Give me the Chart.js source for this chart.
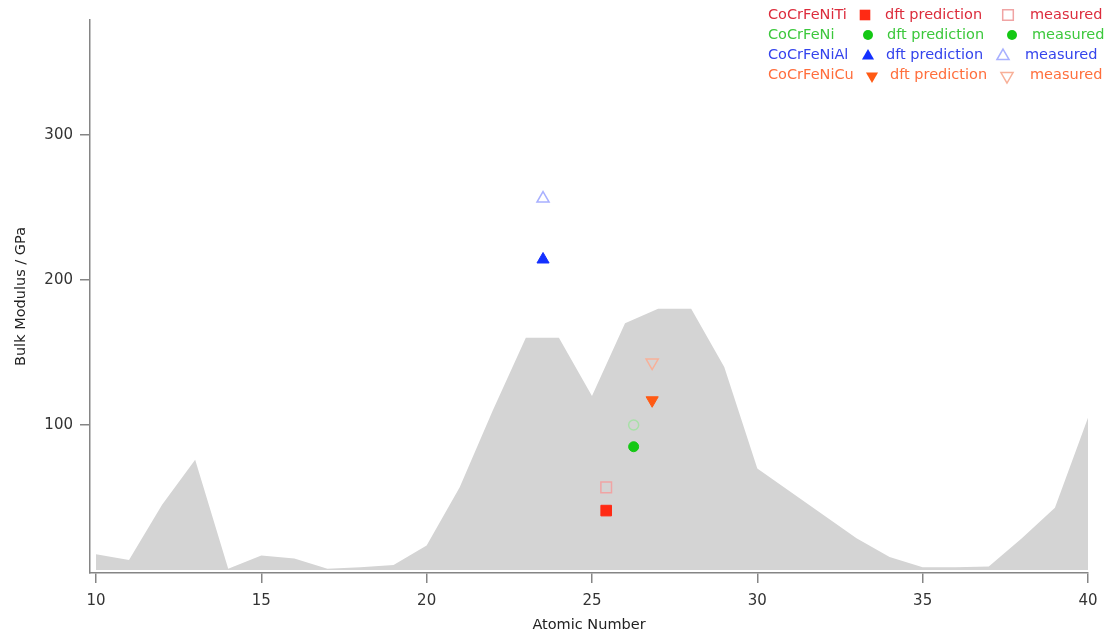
<!DOCTYPE html>
<html>
<head>
<meta charset="utf-8">
<script src="https://cdn.jsdelivr.net/npm/chart.js@4"></script>
<style>
  body { margin: 0; background: #fff; }
  #wrap { width: 1118px; height: 637px; }
</style>
</head>
<body>
<div id="wrap"><canvas id="chart" width="1118" height="637"></canvas></div>
<script>
// element bulk modulus (gray area)
const atomicNumbers = [10, 11, 12, 13, 14, 15, 16, 17, 18, 19, 20, 21, 22, 23, 24, 25, 26, 27, 28, 29, 30, 31, 32, 33, 34, 35, 36, 37, 38, 39, 40];
const bulkModulus = [11, 7, 45, 76, 1, 10, 8, 1, 2, 3.5, 17, 57, 110, 160, 160, 120, 170, 180, 180, 140, 70, 54, 38, 22, 9, 2, 2, 2.5, 22, 43, 105];

// alloys: mean atomic number, dft prediction, measured
const alloys = ['CoCrFeNiTi', 'CoCrFeNi', 'CoCrFeNiAl', 'CoCrFeNiCu'];
const alloyZ = [25.43, 26.26, 23.52, 26.82];
const dftPrediction = [41, 85, 214, 117];
const measured = [57, 100, 256, 143];

const xTicks = [10, 15, 20, 25, 30, 35, 40];
const yTicks = [100, 200, 300];

const fillColors = ['#ff2a14', '#14c814', '#1430ff', '#ff5a14'];
const openColors = ['#f0a4a4', '#a8e0a8', '#a8b0ff', '#f8b098'];
const textColors = ['#dc2c3c', '#3cc83c', '#3444ec', '#ff6e3c'];
const styles = ['rect', 'circle', 'triangle', 'triangle'];
const rotations = [0, 0, 0, 180];
const radii = [7.5, 5, 7, 7];
const axisColor = '#858585';

const datasets = [{
  type: 'line',
  data: atomicNumbers.map((z, i) => ({ x: z, y: bulkModulus[i] })),
  backgroundColor: '#d4d4d4',
  borderWidth: 0,
  pointRadius: 0,
  fill: 'origin',
  tension: 0,
  order: 10
}];

alloys.forEach((name, i) => {
  datasets.push({
    label: name + ' dft',
    data: [{ x: alloyZ[i], y: dftPrediction[i] }],
    pointStyle: styles[i],
    rotation: rotations[i],
    pointRadius: radii[i],
    backgroundColor: fillColors[i],
    borderColor: fillColors[i],
    borderWidth: 1
  });
  datasets.push({
    label: name + ' measured',
    data: [{ x: alloyZ[i], y: measured[i] }],
    pointStyle: styles[i],
    rotation: rotations[i],
    pointRadius: radii[i],
    backgroundColor: 'rgba(0,0,0,0)',
    borderColor: openColors[i],
    borderWidth: 1.5
  });
});

function drawMarker(ctx, style, rot, x, y, r, filled, color) {
  ctx.save();
  ctx.translate(x, y);
  ctx.rotate(rot * Math.PI / 180);
  ctx.beginPath();
  if (style === 'rect') {
    const s = r * Math.SQRT1_2;
    ctx.rect(-s, -s, 2 * s, 2 * s);
  } else if (style === 'circle') {
    ctx.arc(0, 0, r, 0, Math.PI * 2);
  } else {
    ctx.moveTo(0, -r);
    ctx.lineTo(r * Math.sin(Math.PI / 3), r * 0.5);
    ctx.lineTo(-r * Math.sin(Math.PI / 3), r * 0.5);
    ctx.closePath();
  }
  if (filled) {
    ctx.fillStyle = color;
    ctx.fill();
  } else {
    ctx.strokeStyle = color;
    ctx.lineWidth = 1.5;
    ctx.stroke();
  }
  ctx.restore();
}

// text legend in the top right corner
const legendRows = [
  { y: 15, mark1: 865, text1: 885, mark2: 1008, text2: 1030, measuredFilled: false },
  { y: 35, mark1: 868, text1: 887, mark2: 1012, text2: 1032, measuredFilled: true },
  { y: 55, mark1: 868, text1: 886, mark2: 1003, text2: 1025, measuredFilled: false },
  { y: 75, mark1: 872, text1: 890, mark2: 1007, text2: 1030, measuredFilled: false }
];

const textLegend = {
  id: 'textLegend',
  afterDraw(chart) {
    const ctx = chart.ctx;
    ctx.save();
    ctx.font = '14.5px "DejaVu Sans"';
    ctx.textBaseline = 'middle';
    ctx.textAlign = 'left';
    alloys.forEach((name, i) => {
      const row = legendRows[i];
      ctx.fillStyle = textColors[i];
      ctx.fillText(name, 768, row.y);
      ctx.fillText('dft prediction', row.text1, row.y);
      ctx.fillText('measured', row.text2, row.y);
      const my = styles[i] === 'triangle' ? row.y + 1 : row.y;
      drawMarker(ctx, styles[i], rotations[i], row.mark1, my, radii[i], true, fillColors[i]);
      if (row.measuredFilled) {
        drawMarker(ctx, styles[i], rotations[i], row.mark2, my, radii[i], true, fillColors[i]);
      } else {
        drawMarker(ctx, styles[i], rotations[i], row.mark2, my, radii[i], false, openColors[i]);
      }
    });
    ctx.restore();
  }
};

const tickFont = { family: '"DejaVu Sans"', size: 15 };
const titleFont = { family: '"DejaVu Sans"', size: 14.5 };

new Chart(document.getElementById('chart'), {
  type: 'scatter',
  data: { datasets: datasets },
  options: {
    responsive: false,
    animation: false,
    events: [],
    layout: { padding: { top: 20, right: 30, left: 0, bottom: 0 } },
    plugins: {
      legend: { display: false },
      tooltip: { enabled: false }
    },
    scales: {
      x: {
        type: 'linear',
        min: 9.82,
        max: 40,
        afterBuildTicks: s => { s.ticks = xTicks.map(v => ({ value: v })); },
        afterFit: s => { s.height = 64; },
        ticks: { font: tickFont, color: '#333', padding: 9, maxRotation: 0 },
        grid: { drawOnChartArea: false, drawTicks: true, tickLength: 10, color: axisColor, lineWidth: 1.5 },
        border: { display: true, color: axisColor, width: 1.5 },
        title: { display: true, text: 'Atomic Number', font: titleFont, color: '#222', padding: { top: 0, bottom: 3 } }
      },
      y: {
        type: 'linear',
        min: -2,
        max: 379,
        afterBuildTicks: s => { s.ticks = yTicks.map(v => ({ value: v })); },
        afterFit: s => { s.width = 90; },
        ticks: { font: tickFont, color: '#333', padding: 7 },
        grid: { drawOnChartArea: false, drawTicks: true, tickLength: 10, color: axisColor, lineWidth: 1.5 },
        border: { display: true, color: axisColor, width: 1.5 },
        title: { display: true, text: 'Bulk Modulus / GPa', font: titleFont, color: '#222', padding: { top: 13, bottom: 0 } }
      }
    }
  },
  plugins: [textLegend]
});
</script>
</body>
</html>
